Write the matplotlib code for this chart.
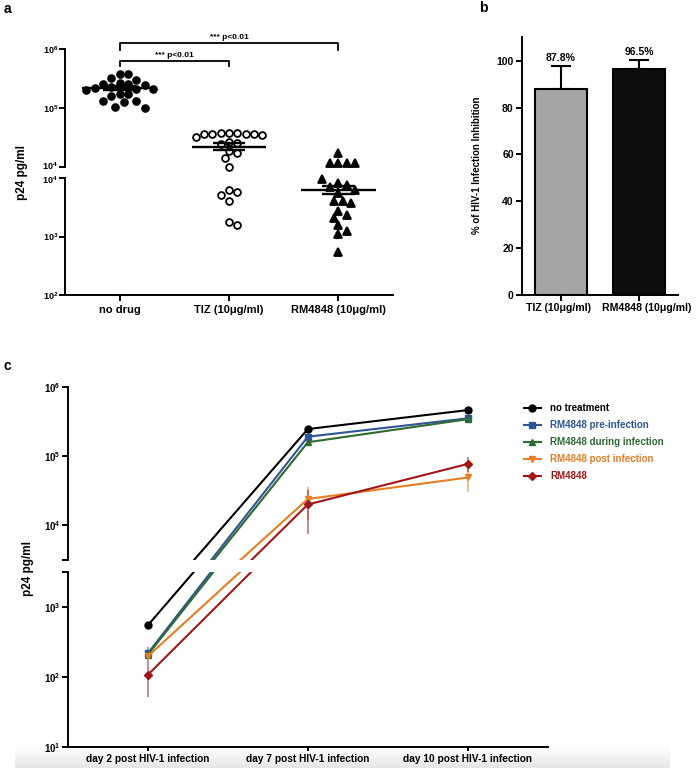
import numpy as np
import matplotlib
matplotlib.use("Agg")
import matplotlib.pyplot as plt
from matplotlib.ticker import FixedLocator, FuncFormatter, NullLocator
from matplotlib.transforms import ScaledTranslation

plt.rcParams['font.family'] = ['Liberation Sans', 'DejaVu Sans']
plt.rcParams['font.weight'] = 'bold'
plt.rcParams['axes.labelweight'] = 'bold'
plt.rcParams['mathtext.fontset'] = 'custom'
plt.rcParams['mathtext.rm'] = 'Liberation Sans:bold'
plt.rcParams['mathtext.bf'] = 'Liberation Sans:bold'
plt.rcParams['mathtext.it'] = 'Liberation Sans:bold'

# ---- panel a data (p24 pg/ml per well)
groups_a = ['no drug', 'TIZ (10μg/ml)', 'RM4848 (10μg/ml)']
no_drug = [3.8e5, 3.7e5, 3.2e5, 3.0e5, 2.7e5, 2.6e5, 2.6e5, 2.5e5, 2.3e5, 2.2e5, 2.1e5,
           2.1e5, 2.0e5, 1.7e5, 1.7e5, 1.6e5, 1.3e5, 1.3e5, 1.25e5, 1.05e5, 1.0e5]
tiz = [3.8e4, 3.8e4, 3.7e4, 3.6e4, 3.6e4, 3.6e4, 3.6e4, 3.5e4, 3.2e4, 2.7e4, 2.6e4,
       2.5e4, 1.9e4, 1.7e4, 1.4e4, 1.0e4, 6.3e3, 5.8e3, 5.2e3, 4.0e3, 1.75e3, 1.55e3]
rm4848 = [1.7e4, 1.15e4, 1.15e4, 1.15e4, 1.15e4, 9.6e3, 8.1e3, 7.5e3, 6.9e3, 6.3e3, 5.5e3,
          4.1e3, 4.0e3, 3.8e3, 2.75e3, 2.3e3, 2.1e3, 1.6e3, 1.25e3, 1.1e3, 5.5e2]
sig_pairs = [(0, 2), (0, 1)]
sig_labels = ['*** p<0.01', '*** p<0.01']

# ---- panel b data
groups_b = ['TIZ (10μg/ml)', 'RM4848 (10μg/ml)']
inhibition = [87.8, 96.5]
inhibition_err = [9.8, 3.9]
bar_labels = ['87.8%', '96.5%']
bar_colors = ['#a6a6a6', '#0d0d0d']

# ---- panel c data
days = ['day 2 post HIV-1 infection', 'day 7 post HIV-1 infection', 'day 10 post HIV-1 infection']
series_names = ['no treatment', 'RM4848 pre-infection', 'RM4848 during infection',
                'RM4848 post infection', 'RM4848']
no_treatment = [540, 2.45e5, 4.6e5]
pre_infection = [215, 1.9e5, 3.5e5]
during_infection = [205, 1.58e5, 3.4e5]
post_infection = [195, 2.4e4, 4.9e4]
rm_only = [106, 2.0e4, 7.7e4]
err_no_treatment = [0, 0, 0]
err_pre = [55, 0, 0]
err_during = [0, 0, 0]
err_post = [0, 1.2e4, 1.9e4]
err_rm = [55, 1.24e4, 1.9e4]
series_colors = ['#000000', '#2f5597', '#2e6b30', '#e57e25', '#a11717']
series_markers = ['o', 's', '^', 'v', 'D']

W, H = 697, 769


def fig_rect(x0, y0, x1, y1):
    # pixel box (top-left origin) -> figure fraction rect
    return [x0 / W, 1 - y1 / H, (x1 - x0) / W, (y1 - y0) / H]


def pow_label(v, pos):
    e = np.log10(v)
    if abs(e - round(e)) > 1e-6:
        return ''
    return r'$\mathbf{10^{%d}}$' % int(round(e))


def style_axis(ax, lw=1.4):
    for s in ['top', 'right']:
        ax.spines[s].set_visible(False)
    for s in ['left', 'bottom']:
        ax.spines[s].set_linewidth(lw)
    ax.tick_params(width=lw, length=4, direction='out')


def nudge(label, dx_px=0.0, dy_px=0.0):
    label.set_transform(label.get_transform() + ScaledTranslation(dx_px / 100, dy_px / 100, fig.dpi_scale_trans))


def swarm_offsets(values, diam=8.4, px_dec=59.0, px_unit=110.0):
    ys = np.log10(values) * px_dec
    steps = [0.0]
    for i in range(1, 14):
        steps += [i * 0.5 * diam, -i * 0.5 * diam]
    placed, offs = [], []
    for y in ys:
        for x in steps:
            if all((x - px) ** 2 + (y - py) ** 2 >= 0.92 * diam ** 2 for px, py in placed):
                break
        placed.append((x, y))
        offs.append(x / px_unit)
    return np.array(offs)


fig = plt.figure(figsize=(W / 100, H / 100), dpi=100)

# screenshot-like grey band at the bottom
band = fig.add_axes(fig_rect(15, 746, 670, 768))
band.imshow(np.linspace(1.0, 0.9, 50).reshape(-1, 1), cmap='gray', vmin=0, vmax=1,
            aspect='auto', extent=(0, 1, 0, 1))
band.set_axis_off()
band.set_zorder(-5)

# ================= panel a =================
ax_top = fig.add_axes(fig_rect(65, 49, 393, 167))
ax_bot = fig.add_axes(fig_rect(65, 178, 393, 295))
for ax, lims, ticks in [(ax_top, (1e4, 1e6), [1e4, 1e5, 1e6]),
                        (ax_bot, (1e2, 1e4), [1e2, 1e3, 1e4])]:
    ax.set_yscale('log')
    ax.set_ylim(*lims)
    ax.set_xlim(-0.5, 2.5)
    ax.yaxis.set_major_locator(FixedLocator(ticks))
    ax.yaxis.set_minor_locator(NullLocator())
    ax.yaxis.set_major_formatter(FuncFormatter(pow_label))
    style_axis(ax)
    ax.tick_params(axis='y', labelsize=6.5, pad=1)
ax_top.spines['bottom'].set_visible(False)
ax_top.tick_params(axis='x', bottom=False, labelbottom=False)
ax_bot.set_xticks(range(len(groups_a)))
ax_bot.set_xticklabels(groups_a, fontsize=8)
# pull the two 10^4 labels at the break slightly apart
nudge(ax_top.yaxis.get_major_ticks()[0].label1, dy_px=1.5)
nudge(ax_bot.yaxis.get_major_ticks()[-1].label1, dy_px=-1.5)

group_vals = [no_drug, tiz, rm4848]
face = ['black', 'white', 'black']
mk = ['o', 'o', '^']
for i, vals in enumerate(group_vals):
    vals = np.array(vals)
    xs = i + swarm_offsets(vals)
    hi = vals >= 1e4
    for ax, m in [(ax_top, hi), (ax_bot, ~hi)]:
        ax.plot(xs[m], vals[m], linestyle='none', marker=mk[i], markersize=4.9 if mk[i] == 'o' else 5.6,
                markerfacecolor=face[i], markeredgecolor='black', markeredgewidth=1.3, clip_on=False,
                zorder=3)
    mean = vals.mean()
    sem = vals.std(ddof=1) / np.sqrt(len(vals))
    for ax in (ax_top, ax_bot):
        ax.hlines(mean, i - 0.34, i + 0.34, color='black', lw=1.7, zorder=4)
        ax.hlines([mean - sem, mean + sem], i - 0.15, i + 0.15, color='black', lw=1.7, zorder=4)
        ax.vlines(i, mean - sem, mean + sem, color='black', lw=1.7, zorder=4)

# significance brackets (drawn above the axis top)
bracket_y = [10 ** 6.107, 10 ** 5.8]
bracket_drop = [10 ** 5.98, 10 ** 5.71]
for (g0, g1), lab, yb, yd in zip(sig_pairs, sig_labels, bracket_y, bracket_drop):
    ax_top.plot([g0, g0, g1, g1], [yd, yb, yb, yd], color='black', lw=1.3, clip_on=False)
    ax_top.text((g0 + g1) / 2, yb * 1.06, lab, ha='center', va='bottom', fontsize=6)

fig.text(22 / W, 1 - 173 / H, 'p24 pg/ml', rotation=90, ha='center', va='center', fontsize=8.5)
fig.text(4 / W, 1 - 9 / H, 'a', fontsize=10, va='center')

# ================= panel b =================
ax_b = fig.add_axes(fig_rect(522, 37.3, 678, 295))
xb = np.arange(len(groups_b))
ax_b.bar(xb, inhibition, width=0.67, color=bar_colors, edgecolor='black', linewidth=1.5, zorder=2)
ax_b.errorbar(xb, inhibition, yerr=[[0, 0], inhibition_err], fmt='none', ecolor='black',
              elinewidth=1.5, capsize=7.5, capthick=1.5, zorder=1)
for x, v, e, lab in zip(xb, inhibition, inhibition_err, bar_labels):
    ax_b.text(x, v + e + 1.3, lab, ha='center', va='bottom', fontsize=7.5)
ax_b.set_xlim(-0.5, 1.5)
ax_b.set_ylim(0, 110)
ax_b.set_yticks([0, 20, 40, 60, 80, 100])
ax_b.set_xticks(xb)
ax_b.set_xticklabels(groups_b, fontsize=7.6)
style_axis(ax_b)
ax_b.tick_params(axis='y', labelsize=7.5, pad=2)
ax_b.tick_params(axis='x', pad=2)
xt = ax_b.xaxis.get_major_ticks()
nudge(xt[0].label1, dx_px=-2)
nudge(xt[1].label1, dx_px=8)
fig.text(477 / W, 1 - 165 / H, '% of HIV-1 Infection Inhibition', rotation=90,
         ha='center', va='center', fontsize=7)
fig.text(479 / W, 1 - 8 / H, 'b', fontsize=10, va='center')

# ================= panel c =================
brk = 10 ** 3.5
axc_top = fig.add_axes(fig_rect(67.7, 386.7, 548, 560))
axc_bot = fig.add_axes(fig_rect(67.7, 571.7, 548, 746.7))
for ax, lims, ticks in [(axc_top, (brk, 1e6), [brk, 1e4, 1e5, 1e6]),
                        (axc_bot, (10, brk), [10, 1e2, 1e3, brk])]:
    ax.set_yscale('log')
    ax.set_ylim(*lims)
    ax.set_xlim(-0.5, 2.5)
    ax.yaxis.set_major_locator(FixedLocator(ticks))
    ax.yaxis.set_minor_locator(NullLocator())
    ax.yaxis.set_major_formatter(FuncFormatter(pow_label))
    style_axis(ax)
    ax.tick_params(axis='y', labelsize=7, pad=1)
axc_top.spines['bottom'].set_visible(False)
axc_top.tick_params(axis='x', bottom=False, labelbottom=False)
axc_bot.set_xticks(range(len(days)))
axc_bot.set_xticklabels(days, fontsize=7.3)
axc_bot.tick_params(axis='x', length=3, pad=2)

series_vals = [no_treatment, pre_infection, during_infection, post_infection, rm_only]
series_err = [err_no_treatment, err_pre, err_during, err_post, err_rm]
xd = np.arange(len(days))
handles = []
for name, vals, errs, col, m in zip(series_names, series_vals, series_err, series_colors, series_markers):
    for ax in (axc_top, axc_bot):
        if any(errs):
            ax.errorbar(xd, vals, yerr=errs, fmt='none', ecolor=col, elinewidth=1.2, alpha=0.6, zorder=2)
        ln, = ax.plot(xd, vals, color=col, lw=1.5, marker=m, markersize=5 if m != 'D' else 4.5,
                      markeredgecolor=col, label=name, zorder=3)
    handles.append(ln)

fig.legend(handles=handles, loc='upper left', bbox_to_anchor=(524 / W, 1 - 403 / H), frameon=False,
           fontsize=7, labelcolor='linecolor', handlelength=1.7, handletextpad=1.0,
           labelspacing=0.72, borderaxespad=0, borderpad=0)

fig.text(28 / W, 1 - 568 / H, 'p24 pg/ml', rotation=90, ha='center', va='center', fontsize=8.5)
fig.text(4 / W, 1 - 366 / H, 'c', fontsize=10, va='center')

fig.savefig('out.png', dpi=100)
